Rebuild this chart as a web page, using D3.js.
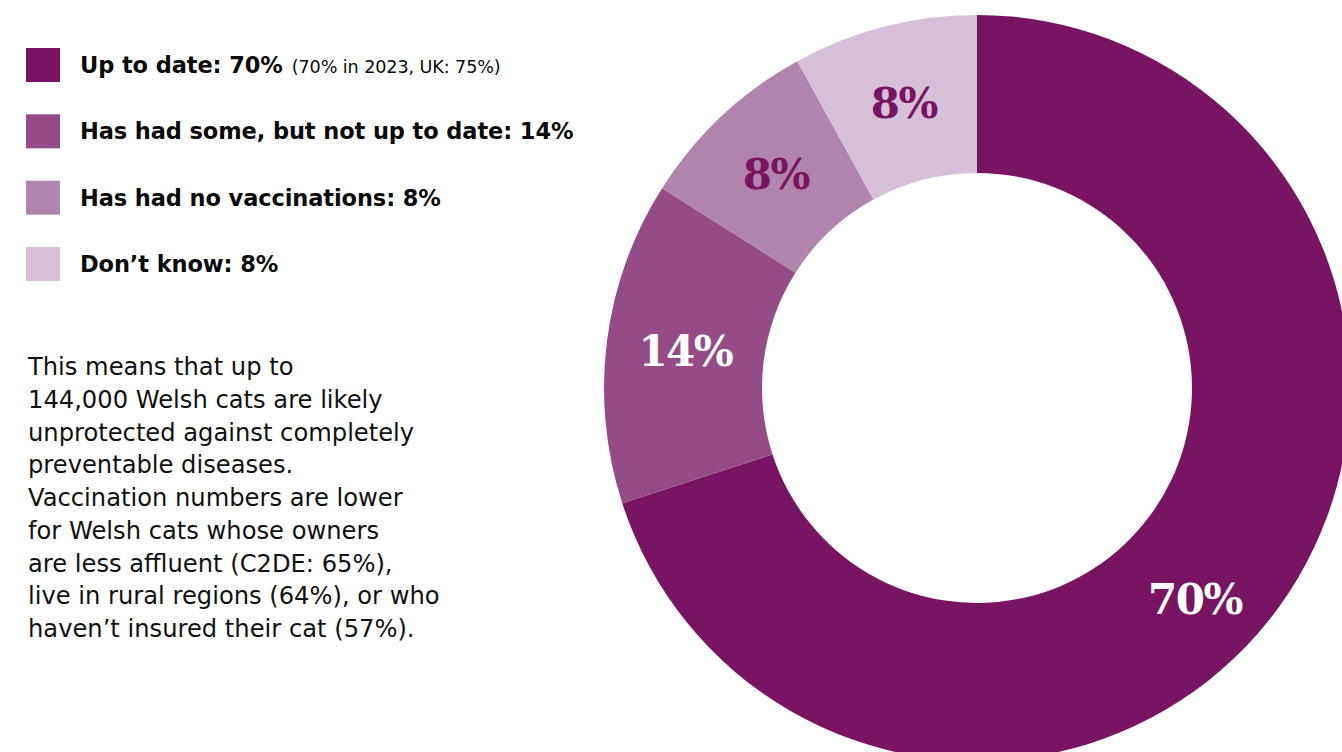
<!DOCTYPE html>
<html>
<head>
<meta charset="utf-8">
<script src="https://cdn.jsdelivr.net/npm/d3@7"></script>
<style>
  html, body { margin: 0; padding: 0; background: #ffffff; }
  svg { display: block; }
</style>
</head>
<body>
<svg id="chart" width="1342" height="752"></svg>
<script>
// ---- data ----
const categories = ["Up to date", "Has had some, but not up to date", "Has had no vaccinations", "Don\u2019t know"];
const values = [70, 14, 8, 8];
const legendNotes = ["(70% in 2023, UK: 75%)", "", "", ""];
const colors = ["#791463", "#954b85", "#b184ae", "#d6c0d7"];
const labelColors = ["#ffffff", "#ffffff", "#791463", "#791463"];
const paragraph = [
  "This means that up to",
  "144,000 Welsh cats are likely",
  "unprotected against completely",
  "preventable diseases.",
  "Vaccination numbers are lower",
  "for Welsh cats whose owners",
  "are less affluent (C2DE: 65%),",
  "live in rural regions (64%), or who",
  "haven\u2019t insured their cat (57%)."
];

const svg = d3.select("#chart");
const data = categories.map((c, i) => ({ cat: c, value: values[i], note: legendNotes[i], color: colors[i], labelColor: labelColors[i] }));

// ---- donut ----
const cx = 977, cy = 388, rOuter = 373, rInner = 215;
const pie = d3.pie().value(d => d.value).sort(null);
const arc = d3.arc().innerRadius(rInner).outerRadius(rOuter);
const arcs = pie(data);
const g = svg.append("g").attr("transform", `translate(${cx},${cy})`);
g.selectAll("path.slice").data(arcs).enter().append("path")
  .attr("class", "slice")
  .attr("d", arc)
  .attr("fill", d => d.data.color);

g.selectAll("text.lbl").data(arcs).enter().append("text")
  .attr("class", "lbl")
  .attr("transform", (d, i) => {
    const p = i === 0 ? d3.pointRadial(134 * Math.PI / 180, 303) : arc.centroid(d);
    return `translate(${p[0]},${p[1]})`;
  })
  .attr("text-anchor", "middle")
  .attr("dy", "0.36em")
  .attr("font-family", "'DejaVu Serif', serif")
  .attr("font-weight", "bold")
  .attr("font-size", 42)
  .attr("letter-spacing", -1.5)
  .attr("fill", d => d.data.labelColor)
  .text(d => d.data.value + "%");

// ---- legend ----
const textFont = "'DejaVu Sans', sans-serif";
const legendY = d3.scalePoint().domain(categories).range([48, 247]);
const items = svg.append("g").selectAll("g.item").data(data).enter().append("g")
  .attr("class", "item")
  .attr("transform", d => `translate(26,${legendY(d.cat)})`);
items.append("rect").attr("width", 34).attr("height", 34).attr("fill", d => d.color);
const lt = items.append("text")
  .attr("x", 54).attr("y", 25)
  .attr("font-family", textFont)
  .attr("fill", "#0a0a0a");
lt.append("tspan")
  .attr("font-weight", 700)
  .attr("font-size", 22.5)
  .attr("letter-spacing", -0.1)
  .text(d => d.cat + ": " + d.value + "%");
lt.filter(d => d.note).append("tspan")
  .attr("dx", 9)
  .attr("font-weight", 400)
  .attr("font-size", 17.6)
  .attr("letter-spacing", -0.1)
  .text(d => d.note);

// ---- paragraph ----
const para = svg.append("text")
  .attr("font-family", textFont)
  .attr("font-size", 24.2)
  .attr("fill", "#111111");
para.selectAll("tspan").data(paragraph).enter().append("tspan")
  .attr("x", 28)
  .attr("y", (d, i) => 375 + i * 32.75)
  .text(d => d);
</script>
</body>
</html>
